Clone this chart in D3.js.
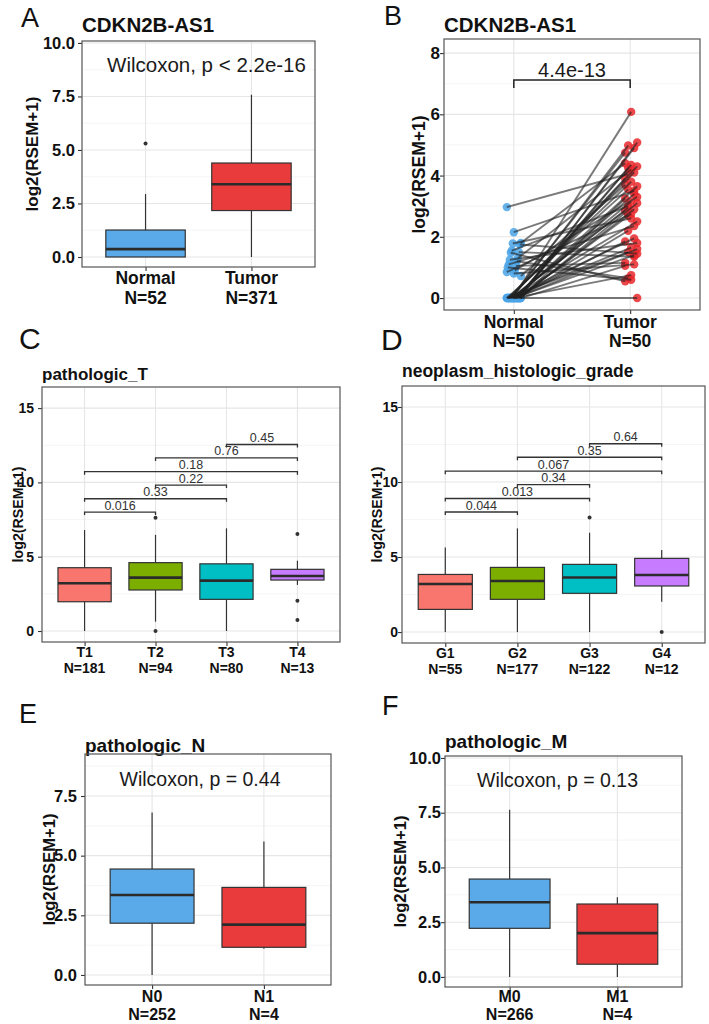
<!DOCTYPE html>
<html><head><meta charset="utf-8">
<script src="https://cdn.jsdelivr.net/npm/d3@7"></script>
<style>body{margin:0;background:#fff}svg{display:block}</style>
</head><body><script>
// ================= DATA =================
// Panel A
const aCats = ["Normal", "Tumor"];
const aN = [52, 371];
const aLow = [0, 0], aQ1 = [0, 2.17], aMed = [0.37, 3.4], aQ3 = [1.26, 4.39], aHigh = [2.94, 7.58];
const aOut = [[5.3], []];
const aTest = "Wilcoxon, p < 2.2e-16";
const aTicks = [0, 2.5, 5, 7.5, 10];
// Panel B (paired)
const bCats = ["Normal", "Tumor"];
const bN = [50, 50];
const bNormal = [2.97, 2.15, 1.8, 1.78, 1.75, 1.55, 1.5, 1.48, 1.3, 1.25, 1.2, 1.1, 1.05, 1.0, 0.9, 0.85, 0.8, 0.72,
  0, 0, 0, 0, 0, 0, 0, 0, 0, 0, 0, 0, 0, 0, 0, 0, 0, 0, 0, 0, 0, 0, 0, 0, 0, 0, 0, 0, 0, 0, 0, 0];
const bTumor = [4.05, 3.5, 4.4, 2.6, 1.45, 3.0, 1.35, 0.55, 4.2, 1.8, 0.65, 2.35, 1.15, 0.6, 3.3, 2.7, 1.1, 3.7,
  6.08, 5.08, 4.98, 4.9, 4.75, 4.35, 4.3, 4.25, 4.1, 3.9, 3.8, 3.65, 3.55, 3.4, 3.25, 3.15, 3.1, 2.95, 2.9, 2.85,
  2.75, 2.5, 2.2, 1.95, 1.85, 1.65, 1.6, 1.5, 1.4, 1.05, 0.75, 0.0];
const bP = "4.4e-13";
const bBracket = 7.12;
const bTicks = [0, 2, 4, 6, 8];
// Panel C
const cCats = ["T1", "T2", "T3", "T4"];
const cN = [181, 94, 80, 13];
const cLow = [0, 0.63, 0, 3.1], cQ1 = [1.97, 2.76, 2.13, 3.43], cMed = [3.21, 3.59, 3.39, 3.7],
      cQ3 = [4.26, 4.6, 4.52, 4.15], cHigh = [6.8, 6.47, 6.91, 4.73];
const cOut = [[], [7.62, 0], [], [6.53, 2.04, 0.74]];
const cP = ["0.016", "0.33", "0.22", "0.18", "0.76", "0.45"];
// Panel D
const dCats = ["G1", "G2", "G3", "G4"];
const dN = [55, 177, 122, 12];
const dLow = [0, 0, 0, 2.02], dQ1 = [1.51, 2.18, 2.58, 3.07], dMed = [3.2, 3.4, 3.64, 3.8],
      dQ3 = [3.84, 4.31, 4.51, 4.91], dHigh = [5.64, 6.91, 6.62, 5.47];
const dOut = [[], [], [7.64], [0]];
const dP = ["0.044", "0.013", "0.34", "0.067", "0.35", "0.64"];
// shared comparisons for C and D
const cmpPairs = [[0, 1], [0, 2], [1, 2], [0, 3], [1, 3], [2, 3]];
const cmpY = [8.0, 8.9, 9.82, 10.72, 11.65, 12.55];
const cdTicks = [0, 5, 10, 15];
// Panel E
const eCats = ["N0", "N1"];
const eN = [252, 4];
const eLow = [0, 1.1], eQ1 = [2.17, 1.16], eMed = [3.35, 2.11], eQ3 = [4.44, 3.67], eHigh = [6.81, 5.59];
const eOut = [[], []];
const eTest = "Wilcoxon, p = 0.44";
const eTicks = [0, 2.5, 5, 7.5];
// Panel F
const fCats = ["M0", "M1"];
const fN = [266, 4];
const fLow = [0, 0], fQ1 = [2.22, 0.58], fMed = [3.41, 2.0], fQ3 = [4.47, 3.33], fHigh = [7.63, 3.64];
const fOut = [[], []];
const fTest = "Wilcoxon, p = 0.13";
const fTicks = [0, 2.5, 5, 7.5, 10];

// ================= STYLE =================
const FONT = "'Liberation Sans', Arial, Helvetica, sans-serif";
const twoCol = ["#5aaae9", "#ea3b3c"];
const fourCol = ["#F8766D", "#7CAE00", "#00BFC4", "#C77CFF"];
const W = 709, H = 1024;
const svg = d3.select("body").append("svg").attr("width", W).attr("height", H)
  .style("font-family", FONT);
svg.append("rect").attr("width", W).attr("height", H).attr("fill", "#fff");

function frame(o) {
  const g = svg.append("g");
  const x = d3.scalePoint().domain(o.cats).range([o.l, o.r]).padding(0.6);
  const y = d3.scaleLinear().domain(o.yd).range([o.b, o.t]);
  g.append("rect").attr("x", o.l).attr("y", o.t).attr("width", o.r - o.l).attr("height", o.b - o.t).attr("fill", "#fff");
  g.selectAll(null).data(o.minor).join("line")
    .attr("x1", o.l).attr("x2", o.r).attr("y1", d => y(d)).attr("y2", d => y(d))
    .attr("stroke", "#f1f1f1").attr("stroke-width", 0.7);
  g.selectAll(null).data(o.ticks).join("line")
    .attr("x1", o.l).attr("x2", o.r).attr("y1", d => y(d)).attr("y2", d => y(d))
    .attr("stroke", "#e6e6e6").attr("stroke-width", 1.1);
  g.selectAll(null).data(o.cats).join("line")
    .attr("x1", d => x(d)).attr("x2", d => x(d)).attr("y1", o.t).attr("y2", o.b)
    .attr("stroke", "#e6e6e6").attr("stroke-width", 1.1);
  const ya = g.append("g").attr("transform", `translate(${o.l},0)`)
    .call(d3.axisLeft(y).tickValues(o.ticks).tickFormat(o.fmt).tickSize(4).tickPadding(o.gap - 4));
  ya.select(".domain").remove();
  ya.selectAll("line").attr("stroke", "#333").attr("stroke-width", 1.1);
  ya.selectAll("text").attr("font-size", o.tickFs).attr("font-weight", "bold").attr("fill", "#111").attr("font-family", FONT);
  const xa = g.append("g").attr("transform", `translate(0,${o.b})`)
    .call(d3.axisBottom(x).tickSize(4).tickFormat(""));
  xa.select(".domain").remove();
  xa.selectAll("line").attr("stroke", "#333").attr("stroke-width", 1.1);
  o.cats.forEach((c, i) => {
    g.append("text").attr("x", x(c)).attr("y", o.xl1).attr("text-anchor", "middle")
      .attr("font-size", o.xFs).attr("font-weight", "bold").attr("fill", "#111").text(c);
    g.append("text").attr("x", x(c)).attr("y", o.xl2).attr("text-anchor", "middle")
      .attr("font-size", o.xFs).attr("font-weight", "bold").attr("fill", "#111").text("N=" + o.n[i]);
  });
  g.append("text").attr("transform", `translate(${o.ytx},${(o.t + o.b) / 2}) rotate(-90)`)
    .attr("text-anchor", "middle").attr("dy", "0.35em")
    .attr("font-size", o.ytFs).attr("font-weight", "bold").attr("fill", "#111").text("log2(RSEM+1)");
  g.append("text").attr("x", o.l).attr("y", o.titleY)
    .attr("font-size", o.titleFs).attr("font-weight", "bold").attr("fill", "#111").text(o.title);
  g.append("text").attr("x", o.letterX).attr("y", o.letterY)
    .attr("font-size", o.letterFs).attr("fill", "#111").text(o.letter);
  return { g, x, y, o };
}

function border(F) {
  const o = F.o;
  F.g.append("rect").attr("x", o.l).attr("y", o.t).attr("width", o.r - o.l).attr("height", o.b - o.t)
    .attr("fill", "none").attr("stroke", "#555").attr("stroke-width", 1.2);
}

function boxes(F, s, colors) {
  const bw = F.x.step() * 0.75;
  F.o.cats.forEach((c, i) => {
    const cx = F.x(c), y = F.y;
    F.g.append("line").attr("x1", cx).attr("x2", cx).attr("y1", y(s.q3[i])).attr("y2", y(s.high[i]))
      .attr("stroke", "#333").attr("stroke-width", 1.2);
    F.g.append("line").attr("x1", cx).attr("x2", cx).attr("y1", y(s.low[i])).attr("y2", y(s.q1[i]))
      .attr("stroke", "#333").attr("stroke-width", 1.2);
    F.g.append("rect").attr("x", cx - bw / 2).attr("width", bw)
      .attr("y", y(s.q3[i])).attr("height", Math.max(0.5, y(s.q1[i]) - y(s.q3[i])))
      .attr("fill", colors[i]).attr("stroke", "#333").attr("stroke-width", 1.2);
    F.g.append("line").attr("x1", cx - bw / 2).attr("x2", cx + bw / 2).attr("y1", y(s.med[i])).attr("y2", y(s.med[i]))
      .attr("stroke", "#2b2b2b").attr("stroke-width", 2.6);
    F.g.selectAll(null).data(s.out[i]).join("circle")
      .attr("cx", cx).attr("cy", d => y(d)).attr("r", 2).attr("fill", "#333");
  });
}

function comparisons(F, labels) {
  cmpPairs.forEach((p, k) => {
    const x1 = F.x(F.o.cats[p[0]]), x2 = F.x(F.o.cats[p[1]]), yy = F.y(cmpY[k]);
    F.g.append("path").attr("d", `M${x1},${yy + 3}V${yy}H${x2}V${yy + 3}`)
      .attr("fill", "none").attr("stroke", "#333").attr("stroke-width", 1.3);
    F.g.append("text").attr("x", (x1 + x2) / 2).attr("y", yy - 2.5).attr("text-anchor", "middle")
      .attr("font-size", 12.5).attr("fill", "#333").text(labels[k]);
  });
}

const f1 = d3.format(".1f"), f0 = d3.format("d");

// ---- Panel A ----
const A = frame({ cats: aCats, n: aN, l: 82, r: 315, t: 41, b: 267, yd: [-0.467, 10.09],
  ticks: aTicks, minor: [1.25, 3.75, 6.25, 8.75], fmt: f1, gap: 7, tickFs: 16.5, xFs: 17.5,
  xl1: 284, xl2: 304, ytx: 32, ytFs: 17, title: "CDKN2B-AS1", titleY: 32, titleFs: 20.5,
  letter: "A", letterX: 21, letterY: 27, letterFs: 27 });
boxes(A, { low: aLow, q1: aQ1, med: aMed, q3: aQ3, high: aHigh, out: aOut }, twoCol);
A.g.append("text").attr("x", (A.o.l + A.o.r) / 2 + 8).attr("y", 72).attr("text-anchor", "middle")
  .attr("font-size", 20.5).attr("fill", "#1a1a1a").text(aTest);
border(A);

// ---- Panel B ----
const B = frame({ cats: bCats, n: bN, l: 444, r: 700, t: 39, b: 310, yd: [-0.39, 8.46],
  ticks: bTicks, minor: [1, 3, 5, 7], fmt: f0, gap: 4, tickFs: 17, xFs: 17.5,
  xl1: 328, xl2: 347, ytx: 419, ytFs: 17.5, title: "CDKN2B-AS1", titleY: 32, titleFs: 20.5,
  letter: "B", letterX: 384, letterY: 25, letterFs: 27 });
{
  const jit = i => (((i * 7) % 15) - 7) * 1.0;
  const xN = B.x("Normal"), xT = B.x("Tumor");
  const pts = bNormal.map((v, i) => ({ n: v, t: bTumor[i], xn: xN + jit(i), xt: xT + jit(i * 3 + 5) }));
  B.g.selectAll(null).data(pts).join("circle").attr("cx", d => d.xn).attr("cy", d => B.y(d.n)).attr("r", 4.2)
    .attr("fill", "#4aa3e6").attr("fill-opacity", 0.85);
  B.g.selectAll(null).data(pts).join("circle").attr("cx", d => d.xt).attr("cy", d => B.y(d.t)).attr("r", 4.2)
    .attr("fill", "#e8282c").attr("fill-opacity", 0.85);
  B.g.selectAll(null).data(pts).join("line")
    .attr("x1", d => d.xn).attr("y1", d => B.y(d.n)).attr("x2", d => d.xt).attr("y2", d => B.y(d.t))
    .attr("stroke", "#222").attr("stroke-opacity", 0.6).attr("stroke-width", 1.9);
  const yb = B.y(bBracket);
  B.g.append("path").attr("d", `M${xN},${yb + 8}V${yb}H${xT}V${yb + 8}`)
    .attr("fill", "none").attr("stroke", "#222").attr("stroke-width", 1.5);
  B.g.append("text").attr("x", (xN + xT) / 2).attr("y", yb - 3).attr("text-anchor", "middle")
    .attr("font-size", 20).attr("fill", "#1a1a1a").text(bP);
}
border(B);

// ---- Panel C ----
const C = frame({ cats: cCats, n: cN, l: 42, r: 340, t: 387, b: 642, yd: [-0.74, 16.42],
  ticks: cdTicks, minor: [2.5, 7.5, 12.5], fmt: f0, gap: 8, tickFs: 14, xFs: 14,
  xl1: 657, xl2: 673, ytx: 18, ytFs: 14.2, title: "pathologic_T", titleY: 380, titleFs: 17,
  letter: "C", letterX: 19, letterY: 349, letterFs: 30 });
boxes(C, { low: cLow, q1: cQ1, med: cMed, q3: cQ3, high: cHigh, out: cOut }, fourCol);
comparisons(C, cP);
border(C);

// ---- Panel D ----
const D = frame({ cats: dCats, n: dN, l: 402, r: 705, t: 386, b: 643, yd: [-0.73, 16.4],
  ticks: cdTicks, minor: [2.5, 7.5, 12.5], fmt: f0, gap: 4, tickFs: 14, xFs: 14,
  xl1: 658, xl2: 674, ytx: 377, ytFs: 14.2, title: "neoplasm_histologic_grade", titleY: 377, titleFs: 17.5,
  letter: "D", letterX: 381, letterY: 350, letterFs: 30 });
boxes(D, { low: dLow, q1: dQ1, med: dMed, q3: dQ3, high: dHigh, out: dOut }, fourCol);
comparisons(D, dP);
border(D);

// ---- Panel E ----
const E = frame({ cats: eCats, n: eN, l: 85, r: 331, t: 754, b: 985, yd: [-0.42, 9.26],
  ticks: eTicks, minor: [1.25, 3.75, 6.25, 8.75], fmt: f1, gap: 8, tickFs: 16.5, xFs: 16,
  xl1: 1002, xl2: 1020, ytx: 49, ytFs: 16.6, title: "pathologic_N", titleY: 752, titleFs: 19,
  letter: "E", letterX: 19, letterY: 723, letterFs: 27 });
boxes(E, { low: eLow, q1: eQ1, med: eMed, q3: eQ3, high: eHigh, out: eOut }, twoCol);
E.g.append("text").attr("x", (E.o.l + E.o.r) / 2 - 8).attr("y", 786).attr("text-anchor", "middle")
  .attr("font-size", 19.5).attr("fill", "#1a1a1a").text(eTest);
border(E);

// ---- Panel F ----
const Fp = frame({ cats: fCats, n: fN, l: 445, r: 682, t: 756, b: 987, yd: [-0.46, 10.09],
  ticks: fTicks, minor: [1.25, 3.75, 6.25, 8.75], fmt: f1, gap: 4, tickFs: 16.5, xFs: 16,
  xl1: 1002, xl2: 1020, ytx: 400, ytFs: 16.6, title: "pathologic_M", titleY: 748, titleFs: 19,
  letter: "F", letterX: 382, letterY: 715, letterFs: 27 });
boxes(Fp, { low: fLow, q1: fQ1, med: fMed, q3: fQ3, high: fHigh, out: fOut }, twoCol);
Fp.g.append("text").attr("x", (Fp.o.l + Fp.o.r) / 2 - 6).attr("y", 787).attr("text-anchor", "middle")
  .attr("font-size", 19.5).attr("fill", "#1a1a1a").text(fTest);
border(Fp);
</script></body></html>
